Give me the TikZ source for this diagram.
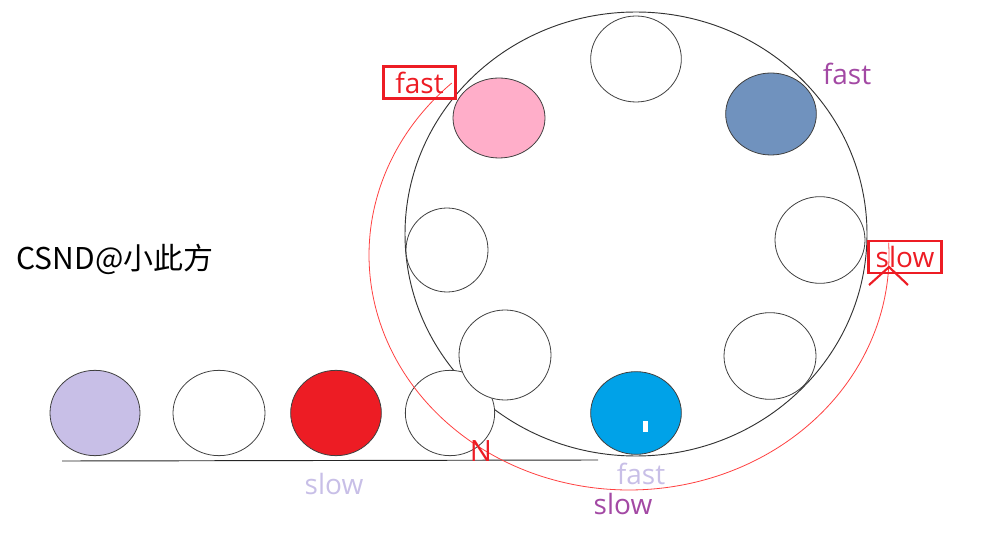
\documentclass[tikz,border=0pt]{standalone}
\usepackage{fontspec}
\setmainfont{Open Sans}
\newfontfamily\cjk{Noto Sans CJK SC}
\usetikzlibrary{shapes.geometric}
\definecolor{lav}{HTML}{C8BFE7}
\definecolor{pinkc}{HTML}{FFAEC9}
\definecolor{steelc}{HTML}{7092BE}
\definecolor{redc}{HTML}{ED1C24}
\definecolor{bluec}{HTML}{00A2E8}
\definecolor{purp}{HTML}{A349A4}
\begin{document}
\begin{tikzpicture}[x=0.75pt,y=-0.75pt,
  ball/.style={ellipse,draw=black!75,line width=0.6pt,inner sep=0pt,fill=white},
  redbox/.style={draw=redc,line width=2.2pt,text=redc,inner sep=0pt,font=\fontsize{21}{21}\selectfont},
  lbl/.style={inner sep=0pt,font=\fontsize{21}{21}\selectfont}]
\useasboundingbox (0,0) rectangle (988,541);
% big wheel
\node[ellipse,draw=black!80,line width=0.7pt,minimum width=346.5pt,minimum height=333pt,inner sep=0pt] (wheel) at (636,234) {};
% ground line
\coordinate (g1) at (62,461);
\coordinate (g2) at (598,460);
\draw[black!85,line width=0.7pt] (g1) -- (g2);
% bottom row
\node[ball,fill=lav,minimum width=67.5pt,minimum height=64pt] (b1) at (95,413) {};
\node[ball,minimum width=69pt,minimum height=64pt] (b2) at (219,413) {};
\node[ball,fill=redc,minimum width=68pt,minimum height=64pt] (b3) at (336,413) {};
\node[ball,minimum width=67pt,minimum height=64pt] (b4) at (450,413) {};
% wheel balls
\node[ball,minimum width=68pt,minimum height=64.5pt] (w1) at (636,59) {};
\node[ball,fill=steelc,minimum width=68pt,minimum height=61.5pt] (w2) at (771,114) {};
\node[ball,minimum width=67.5pt,minimum height=65pt] (w3) at (820,240) {};
\node[ball,minimum width=69pt,minimum height=65pt] (w4) at (770,356) {};
\node[ball,fill=bluec,minimum width=68pt,minimum height=62pt] (w5) at (636,413) {};
\node[ball,minimum width=69pt,minimum height=67.5pt] (w6) at (505,355) {};
\node[ball,minimum width=61.5pt,minimum height=63pt] (w7) at (447,250) {};
\node[ball,fill=pinkc,minimum width=69pt,minimum height=60pt] (w8) at (499,118) {};
% small white mark
\fill[white] (643,421) rectangle (648,432);
% red arc
\draw[red!75,line width=0.6pt] plot[domain=-3:227,samples=120,smooth] ({629+260*cos(\x)},{255+235*sin(\x)});
\coordinate (apex) at (889,267);
\coordinate (al) at (869,285);
\coordinate (ar) at (908,285);
\draw[redc,line width=1.6pt] (al) -- (apex) -- (ar);
% boxes
\node[redbox,minimum width=54pt,minimum height=24.5pt] (fastbox) at (419.5,82.5) {fast};
\node[redbox,minimum width=55pt,minimum height=24pt] (slowbox) at (905,257) {slow};
% labels
\node[lbl,text=purp] (f1) at (847,74) {fast};
\node[lbl,text=lav] (s1) at (334,484) {slow};
\node[lbl,text=lav] (f2) at (641,474) {fast};
\node[lbl,text=purp] (s2) at (623,504) {slow};
\node[lbl,text=redc,font=\fontsize{22}{22}\selectfont] (n) at (481,451) {N};
\node[inner sep=0pt,font=\cjk\fontsize{22.5}{22.5}\selectfont] (csnd) at (115,259) {CSND@小此方};
\end{tikzpicture}
\end{document}
